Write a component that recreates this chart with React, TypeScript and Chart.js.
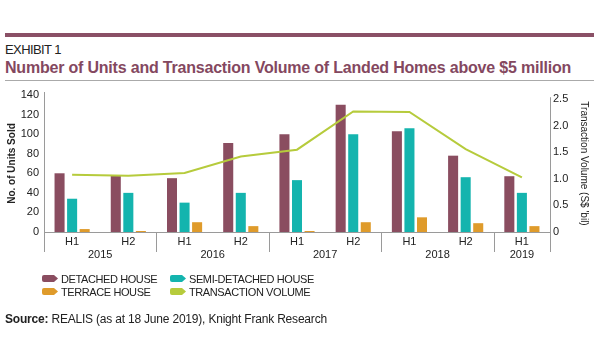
import React, { useEffect, useRef } from "react";
import { Chart, registerables } from "chart.js";

Chart.register(...registerables);

const categories = ["H1", "H2", "H1", "H2", "H1", "H2", "H1", "H2", "H1"];
const years = ["2015", "2015", "2016", "2016", "2017", "2017", "2018", "2018", "2019"];
const detached = [60, 58, 55, 91, 100, 130, 103, 78, 57];
const semiDetached = [34, 40, 30, 40, 53, 100, 106, 56, 40];
const terrace = [3, 1, 10, 6, 1, 10, 15, 9, 6];
const volume = [1.08, 1.06, 1.11, 1.42, 1.55, 2.27, 2.26, 1.56, 1.03];
const unitTicks = [0, 20, 40, 60, 80, 100, 120, 140];
const volumeTicks = [0, 0.5, 1.0, 1.5, 2.0, 2.5];

const seriesNames = ["DETACHED HOUSE", "SEMI-DETACHED HOUSE", "TERRACE HOUSE", "TRANSACTION VOLUME"];
const seriesColors = ["#8a4d60", "#14b4ae", "#df9b2b", "#b6cb3c"];
const legendOrder = [0, 1, 2, 3];

const FONT = "'Liberation Sans', Arial, Helvetica, sans-serif";
const AXIS_GRAY = "#9a9a9a";
const TEXT = "#222222";

const yearPlugin = {
  id: "yearAxis",
  afterDraw(chart: any) {
    const { ctx, chartArea, scales } = chart;
    const x = scales.x;
    const yL = scales.y;
    const yR = scales.y1;
    const base = yL.getPixelForValue(0);
    const ext = 20;
    ctx.save();
    ctx.strokeStyle = AXIS_GRAY;
    ctx.lineWidth = 1;
    ctx.beginPath();
    ctx.moveTo(chartArea.left, Math.round(base) + 0.5);
    ctx.lineTo(chartArea.right, Math.round(base) + 0.5);
    const lx = Math.round(chartArea.left) + 0.5;
    ctx.moveTo(lx, yL.getPixelForValue(unitTicks[unitTicks.length - 1]) - 3);
    ctx.lineTo(lx, base + ext);
    const rx = Math.round(chartArea.right) + 0.5;
    ctx.moveTo(rx, yR.getPixelForValue(volumeTicks[volumeTicks.length - 1]) - 2);
    ctx.lineTo(rx, base + ext);
    for (let i = 1; i < years.length; i++) {
      if (years[i] !== years[i - 1]) {
        const sx = Math.round((x.getPixelForValue(i - 1) + x.getPixelForValue(i)) / 2) + 0.5;
        ctx.moveTo(sx, base);
        ctx.lineTo(sx, base + ext);
      }
    }
    ctx.stroke();
    ctx.fillStyle = TEXT;
    ctx.font = `11px ${FONT}`;
    ctx.textAlign = "center";
    ctx.textBaseline = "middle";
    let start = 0;
    for (let i = 1; i <= years.length; i++) {
      if (i === years.length || years[i] !== years[start]) {
        const cx = (x.getPixelForValue(start) + x.getPixelForValue(i - 1)) / 2;
        ctx.fillText(years[start], cx, base + 23);
        start = i;
      }
    }
    ctx.restore();
  },
};

function ChartCanvas() {
  const ref = useRef<HTMLCanvasElement | null>(null);
  useEffect(() => {
    if (!ref.current) return;
    Chart.defaults.font.family = FONT;
    Chart.defaults.color = TEXT;
    const barCommon = { categoryPercentage: 0.67, barPercentage: 0.8, yAxisID: "y", order: 1 };
    const chart = new Chart(ref.current, {
      type: "bar",
      data: {
        labels: categories,
        datasets: [
          { type: "bar", label: seriesNames[0], data: detached, backgroundColor: seriesColors[0], ...barCommon },
          { type: "bar", label: seriesNames[1], data: semiDetached, backgroundColor: seriesColors[1], ...barCommon },
          { type: "bar", label: seriesNames[2], data: terrace, backgroundColor: seriesColors[2], ...barCommon },
          {
            type: "line",
            label: seriesNames[3],
            data: volume,
            borderColor: seriesColors[3],
            backgroundColor: seriesColors[3],
            borderWidth: 2,
            pointRadius: 0,
            tension: 0,
            yAxisID: "y1",
            order: 0,
          },
        ] as any,
      },
      options: {
        animation: false,
        responsive: false,
        maintainAspectRatio: false,
        layout: { padding: { top: 95, left: 0, right: 0, bottom: 0 } },
        plugins: { legend: { display: false }, tooltip: { enabled: false } },
        scales: {
          x: {
            grid: { display: false, drawTicks: false },
            border: { display: false },
            ticks: { font: { size: 11 }, padding: 3, color: TEXT, maxRotation: 0 },
            afterFit: (s: any) => { s.height = 128; },
          },
          y: {
            position: "left",
            min: 0,
            max: 140,
            grid: { display: false, drawTicks: false },
            border: { display: false },
            afterBuildTicks: (s: any) => { s.ticks = unitTicks.map((v) => ({ value: v })); },
            ticks: { font: { size: 11 }, padding: 5, color: TEXT },
            title: {
              display: true,
              text: "No. of Units Sold",
              font: { size: 10, weight: "bold" },
              color: TEXT,
              padding: { top: 6, bottom: 0 },
            },
            afterFit: (s: any) => { s.width = 44; },
          },
          y1: {
            position: "right",
            min: 0,
            max: 2.58,
            grid: { display: false, drawTicks: false },
            border: { display: false },
            afterBuildTicks: (s: any) => { s.ticks = volumeTicks.map((v) => ({ value: v })); },
            ticks: {
              font: { size: 11 },
              padding: 3,
              color: TEXT,
              callback: (v: any) => (Number(v) === 0 ? "0" : Number(v).toFixed(1)),
            },
            title: {
              display: true,
              text: "Transaction Volume (S$ 'bil)",
              font: { size: 10 },
              color: TEXT,
              padding: { top: 10, bottom: 0 },
            },
            afterFit: (s: any) => { s.width = 50; },
          },
        },
      } as any,
      plugins: [yearPlugin],
    });
    return () => chart.destroy();
  }, []);
  return <canvas ref={ref} width={600} height={360} style={{ position: "absolute", left: 0, top: 0, width: 600, height: 360 }} />;
}

export default function App() {
  const legendItem = (i: number) => (
    <div key={i} style={{ display: "flex", alignItems: "center", height: 13 }}>
      <div
        style={{
          width: 16,
          height: 7,
          background: seriesColors[i],
          clipPath: "polygon(0 0, 75% 0, 100% 50%, 75% 100%, 0 100%)",
          borderRadius: "2px 0 0 2px",
          marginRight: 3,
        }}
      />
      <span style={{ fontSize: 11, letterSpacing: -0.4, color: TEXT }}>{seriesNames[i]}</span>
    </div>
  );
  return (
    <div style={{ position: "fixed", left: 0, top: 0, width: 600, height: 360, background: "#fff", fontFamily: FONT, overflow: "hidden" }}>
      <div style={{ position: "absolute", left: 5, top: 33, width: 589, height: 4, background: "#8a5066" }} />
      <div style={{ position: "absolute", left: 5, top: 43, fontSize: 13, lineHeight: "14px", color: TEXT, letterSpacing: -0.6 }}>EXHIBIT 1</div>
      <div style={{ position: "absolute", left: 5, top: 58, fontSize: 16, lineHeight: "19px", fontWeight: "bold", color: "#84485f", whiteSpace: "nowrap", letterSpacing: -0.2 }}>
        Number of Units and Transaction Volume of Landed Homes above $5 million
      </div>
      <div style={{ position: "absolute", left: 5, top: 80, width: 589, height: 1, background: "#aaaaaa" }} />
      <ChartCanvas />
      <div style={{ position: "absolute", left: 42, top: 272 }}>
        {legendItem(legendOrder[0])}
        {legendItem(legendOrder[2])}
      </div>
      <div style={{ position: "absolute", left: 170, top: 272 }}>
        {legendItem(legendOrder[1])}
        {legendItem(legendOrder[3])}
      </div>
      <div style={{ position: "absolute", left: 5, top: 311, fontSize: 12, lineHeight: "16px", color: TEXT, letterSpacing: -0.2, whiteSpace: "nowrap" }}>
        <b>Source:</b> REALIS (as at 18 June 2019), Knight Frank Research
      </div>
    </div>
  );
}
